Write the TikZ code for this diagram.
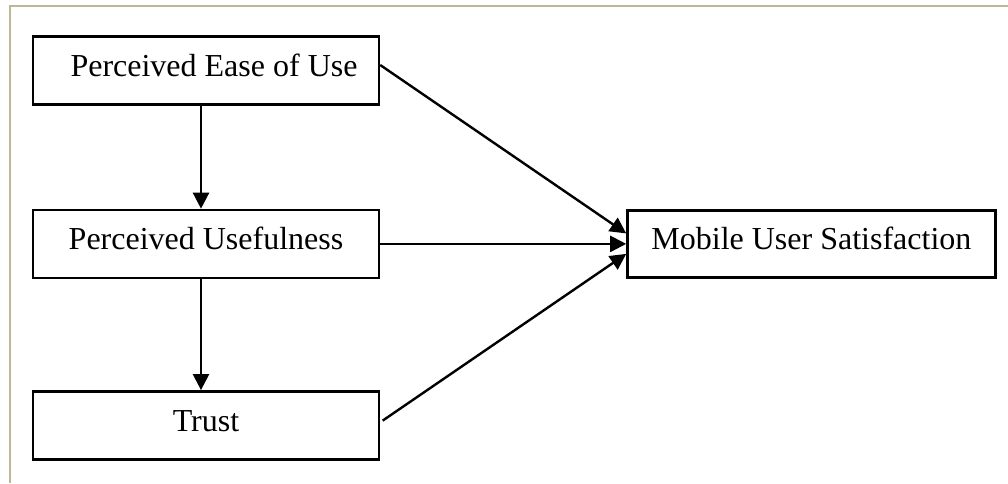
\documentclass[tikz,border=0pt]{standalone}
\usepackage{fontspec}
\setmainfont{Liberation Serif}
\usetikzlibrary{positioning,arrows.meta}
\definecolor{framecol}{RGB}{190,182,150}

\begin{document}
\begin{tikzpicture}[
      construct/.style={
        draw=black, line width=1.2pt, fill=white, font=\fontsize{16}{19}\selectfont,
        minimum width=173pt, minimum height=34pt, inner sep=0pt,
        text height=11pt, text depth=5pt
      },
      link/.style={-{Triangle[length=8pt,width=8pt]}, line width=1.2pt}
      ]

  \useasboundingbox (0,0) rectangle (504pt,-241.5pt);
  \draw[framecol, line width=1.1pt] (5pt,-241.5pt) -- (5pt,-3pt) -- (504pt,-3pt);

	  \node[construct] (peou) at (103pt,-35.25pt) {\hspace*{8pt}Perceived Ease of Use};
	  \node[construct, below = 51.5pt of peou] (pu) {Perceived Usefulness};
	  \node[construct, below = 55.5pt of pu] (tr) {Trust};
	  \node[construct, right = 123pt of pu, minimum width=184pt, minimum height=33.5pt] (mus) {Mobile User Satisfaction};

  % Connect the nodes

  \draw[link] ([xshift=-2.5pt]peou.south) -- ([xshift=-2.5pt]pu.north);
  \draw[link] ([xshift=-2.5pt]pu.south) -- ([xshift=-2.5pt]tr.north);
  \draw[link] ([yshift=2.75pt]peou.east) -- ([yshift=5.25pt]mus.west);
  \draw[link] (pu.east) -- (pu.east -| mus.west);
  \draw[link, shorten <=1.5pt] ([yshift=1.5pt]tr.east) -- ([yshift=-5pt]mus.west);

\end{tikzpicture}
\end{document}
